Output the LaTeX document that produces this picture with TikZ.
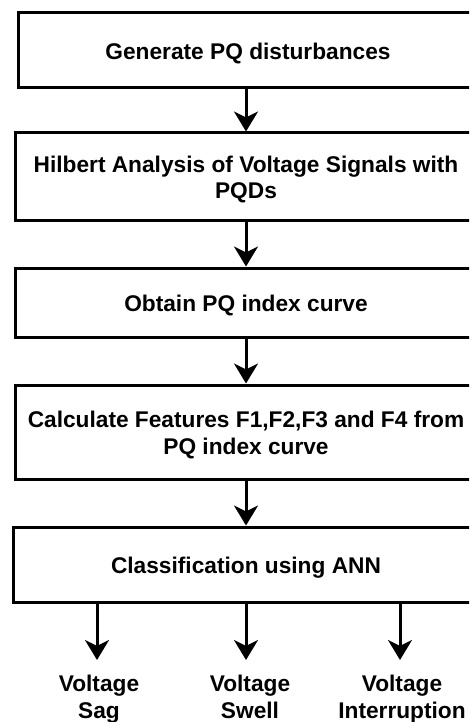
\documentclass[tikz,border=0pt]{standalone}
\usepackage{fontspec}
\setmainfont{Liberation Sans}
\usetikzlibrary{arrows.meta}
\begin{document}
\begin{tikzpicture}[x=1pt,y=-1pt,
  stepbox/.style={draw=black, line width=3pt, fill=white, inner sep=0pt},
  steptext/.style={align=center, inner sep=0pt,
    font=\bfseries\fontsize{22.7}{26.5}\selectfont},
  outlabel/.style={align=center, inner sep=0pt, anchor=north,
    font=\bfseries\fontsize{22.7}{27}\selectfont},
  arr/.style={line width=3pt, -{Stealth[length=20pt,width=24pt,inset=6pt]}}]
\clip (0,0) rectangle (469,722);
\fill[white] (0,0) rectangle (469,722);
\node[stepbox, minimum width=456pt, minimum height=75pt] (b1) at (246,50.5) {};
\node[stepbox, minimum width=462pt, minimum height=87pt] (b2) at (246,176.5) {};
\node[stepbox, minimum width=462pt, minimum height=69pt] (b3) at (246,302.5) {};
\node[stepbox, minimum width=462pt, minimum height=94pt] (b4) at (246,432) {};
\node[stepbox, minimum width=466pt, minimum height=75pt] (b5) at (246,564.5) {};
\node[steptext] (t1) at ([xshift=2pt,yshift=-3pt]b1) {Generate PQ disturbances};
\node[steptext] (t2) at ([yshift=-3pt]b2) {Hilbert Analysis of Voltage Signals with\\PQDs};
\node[steptext] (t3) at ([yshift=-3pt]b3) {Obtain PQ index curve};
\node[steptext] (t4) at ([yshift=-3pt]b4) {Calculate Features F1,F2,F3 and F4 from\\PQ index curve};
\node[steptext] (t5) at ([yshift=-3pt]b5) {Classification using ANN};
\node[outlabel] (sag) at (99,675) {Voltage\\Sag};
\node[outlabel] (swell) at (250,675) {Voltage\\Swell};
\node[outlabel] (intr) at (402,675) {Voltage\\Interruption};
\draw[arr] (b1) -- (b2);
\draw[arr] (b2) -- (b3);
\draw[arr] (b3) -- (b4);
\draw[arr] (b4) -- (b5);
\coordinate (e1) at (97,660);
\coordinate (e2) at (246,660);
\coordinate (e3) at (400,660);
\draw[arr] (b5.south -| e1) -- (e1);
\draw[arr] (b5.south -| e2) -- (e2);
\draw[arr] (b5.south -| e3) -- (e3);
\end{tikzpicture}
\end{document}
